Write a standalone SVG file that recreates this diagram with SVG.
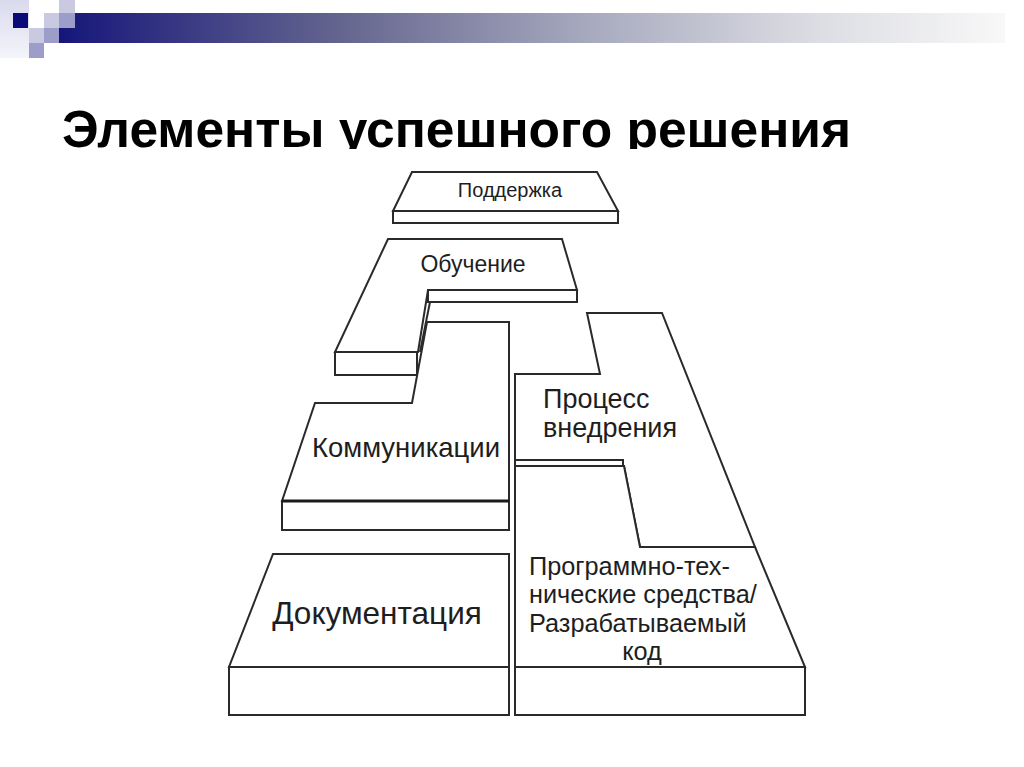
<svg xmlns="http://www.w3.org/2000/svg" width="1024" height="767" viewBox="0 0 1024 767">
<defs>
<linearGradient id="bar" x1="59" y1="0" x2="1005" y2="0" gradientUnits="userSpaceOnUse">
<stop offset="0" stop-color="#16167a"/>
<stop offset="0.3" stop-color="#65668f"/>
<stop offset="0.55" stop-color="#a5a7bd"/>
<stop offset="0.8" stop-color="#dcdde3"/>
<stop offset="1" stop-color="#f8f8f8"/>
</linearGradient>
<linearGradient id="faint" x1="0" y1="0" x2="0" y2="1">
<stop offset="0" stop-color="#dadaee"/>
<stop offset="1" stop-color="#f4f4fa"/>
</linearGradient>
<clipPath id="titleclip"><rect x="0" y="60" width="1024" height="89"/></clipPath>
<style>
.f{fill:#ffffff;stroke:#2a2a2a;stroke-width:2;stroke-linejoin:miter}
.ln{fill:none;stroke:#2a2a2a;stroke-width:2}
.thick{fill:none;stroke:#1a1a1a;stroke-width:3}
.t{font-family:"Liberation Sans",Arial,sans-serif;fill:#1e1e1e}
.lt{fill:#c9c9e1}
.md{fill:#9d9dc9}
</style>
</defs>
<rect width="1024" height="767" fill="#ffffff"/>

<g id="header-decoration">
<rect x="0" y="0" width="29" height="58" fill="url(#faint)"/>
<rect x="59" y="13" width="946" height="30" fill="url(#bar)"/>
<rect x="13" y="13" width="15" height="15" fill="#0a0a78"/>
<rect class="lt" x="59" y="0" width="16" height="13"/>
<rect class="lt" x="44" y="13" width="15" height="15"/>
<rect class="md" x="59" y="13" width="16" height="15"/>
<rect class="md" x="44" y="28" width="15" height="15"/>
<rect class="lt" x="29" y="28" width="15" height="15"/>
<rect class="md" x="29" y="43" width="15" height="15"/>
</g>

<g id="title" clip-path="url(#titleclip)">
<text x="62" y="147" font-family="Liberation Sans, Arial, sans-serif" font-weight="bold" font-size="51.5" fill="#000000">Элементы успешного решения</text>
</g>

<g id="connectors"></g>

<g id="node-support">
<polygon class="f" points="412,172 597,172 618,211 393,211"/>
<rect class="f" x="393" y="211" width="225" height="12"/>
<text class="t" x="510" y="197" font-size="20" text-anchor="middle">Поддержка</text>
</g>

<g id="node-training">
<polygon class="f" points="388,239 562,239 577,290 428,290 418,352 335,352"/>
<rect class="f" x="428" y="290" width="149" height="12"/>
<rect class="f" x="335" y="352" width="82" height="23"/>
<line class="ln" x1="430" y1="302" x2="420" y2="352"/>
<text class="t" x="473" y="272" font-size="23" text-anchor="middle">Обучение</text>
</g>

<g id="node-communications">
<polygon class="f" points="427,322 509,322 509,501 282,501 315,403 412,403"/>
<rect class="f" x="282" y="501" width="227" height="29"/>
<line class="thick" x1="282" y1="501" x2="509" y2="501"/>
<text class="t" x="406" y="457" font-size="27.5" text-anchor="middle">Коммуникации</text>
</g>

<g id="node-process">
<polygon class="f" points="587,313 662,313 755,547 640,547 624,466 515,466 515,374 600,374"/>
<rect class="f" x="515" y="460" width="108" height="6"/>
<text class="t" x="543" y="408" font-size="27">Процесс</text>
<text class="t" x="543" y="437" font-size="27">внедрения</text>
</g>

<g id="node-software">
<polygon class="f" points="515,466 624,466 640,547 755,547 805,667 515,667"/>
<rect class="f" x="515" y="667" width="290" height="48"/>
<text class="t" x="529" y="575" font-size="25.3">Программно-тех-</text>
<text class="t" x="529" y="603" font-size="25.3">нические средства/</text>
<text class="t" x="529" y="632" font-size="25.3">Разрабатываемый</text>
<text class="t" x="642" y="660" font-size="25.3" text-anchor="middle">код</text>
</g>

<g id="node-documentation">
<polygon class="f" points="273,554 509,554 509,667 229,667"/>
<rect class="f" x="229" y="667" width="280" height="48"/>
<text class="t" x="377" y="624" font-size="31.5" text-anchor="middle">Документация</text>
</g>
</svg>
